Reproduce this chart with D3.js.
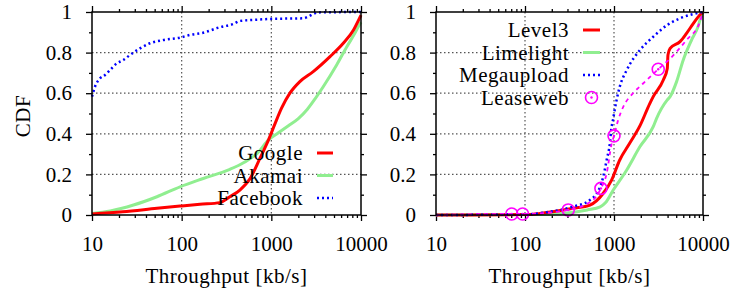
<!DOCTYPE html>
<html>
<head>
<meta charset="utf-8">
<script src="https://cdn.jsdelivr.net/npm/d3@7"></script>
<style>
    body { margin: 0; background: #fff; }
    svg { display: block; }
    svg text { font-family: "Liberation Serif", "DejaVu Serif", serif; }
</style>
</head>
<body>
<svg id="chart" width="737" height="292"></svg>
<script>
// ---- data ----
const xTickVals = [10, 100, 1000, 10000];
const yTickVals = [0, 0.2, 0.4, 0.6, 0.8, 1];

// left panel
const googleX = [10, 22, 53, 96, 160, 267, 345, 446, 580, 748, 930, 1100, 1300, 1610, 2080, 2930, 4510, 6340, 8250, 9400, 10000];
const googleY = [0.005, 0.016, 0.033, 0.044, 0.053, 0.061, 0.09, 0.123, 0.18, 0.28, 0.37, 0.45, 0.526, 0.6, 0.657, 0.706, 0.78, 0.846, 0.911, 0.96, 0.985];
const akamaiX = [10, 16, 29, 53, 96, 174, 345, 500, 700, 930, 1200, 1550, 2000, 2510, 3100, 3790, 5350, 6950, 8530, 9400, 10000];
const akamaiY = [0.008, 0.02, 0.049, 0.09, 0.139, 0.18, 0.225, 0.26, 0.305, 0.37, 0.405, 0.44, 0.475, 0.52, 0.575, 0.632, 0.739, 0.829, 0.895, 0.93, 0.95];
const facebookX = [10, 10.8, 12.3, 14, 15.9, 18.9, 22.3, 26.5, 34.3, 44.3, 62.5, 96, 124, 174, 267, 377, 446, 630, 970, 2280, 2570, 2930, 3340, 10000];
const facebookY = [0.583, 0.632, 0.673, 0.69, 0.714, 0.747, 0.763, 0.788, 0.821, 0.846, 0.862, 0.874, 0.887, 0.898, 0.925, 0.941, 0.956, 0.961, 0.966, 0.969, 0.977, 0.99, 0.998, 1];

// right panel
const level3X = [10, 100, 147, 348, 537, 758, 940, 1160, 1500, 1960, 2530, 2760, 3580, 3970, 4040, 4270, 5520, 6530, 7800, 9200, 10000];
const level3Y = [0, 0.002, 0.008, 0.033, 0.049, 0.107, 0.172, 0.271, 0.353, 0.44, 0.55, 0.583, 0.665, 0.722, 0.788, 0.821, 0.854, 0.895, 0.944, 0.985, 1];
const limelightX = [10, 147, 300, 500, 700, 800, 981, 1390, 1960, 2760, 3010, 3970, 4270, 5050, 6000, 7430, 8800, 9500, 10000];
const limelightY = [0, 0.003, 0.01, 0.025, 0.04, 0.06, 0.123, 0.222, 0.337, 0.435, 0.476, 0.567, 0.583, 0.657, 0.764, 0.862, 0.928, 0.977, 1];
const megauploadX = [10, 100, 190, 348, 537, 697, 758, 827, 899, 937, 981, 1020, 1070, 1160, 1390, 1960, 2760, 3970, 5520, 7800, 10000];
const megauploadY = [0, 0.003, 0.016, 0.041, 0.074, 0.139, 0.189, 0.271, 0.353, 0.43, 0.475, 0.52, 0.567, 0.632, 0.714, 0.813, 0.878, 0.936, 0.969, 0.99, 1];
const leasewebX = [10, 71, 94, 306, 580, 713, 827, 940, 1000, 1100, 1270, 1640, 2140, 3140, 4260, 6530, 9200, 10000];
const leasewebY = [0, 0.005, 0.005, 0.025, 0.074, 0.131, 0.205, 0.35, 0.39, 0.46, 0.533, 0.6, 0.649, 0.718, 0.77, 0.862, 0.95, 1];
const leasewebPtX = [71, 94, 306, 713, 1000, 3140];
const leasewebPtY = [0.005, 0.005, 0.025, 0.131, 0.39, 0.718];

// ---- layout ----
const FONT = "Liberation Serif, DejaVu Serif, serif";
const plotTop = 12, plotBottom = 215;
const panels = [
    {
        x0: 92, x1: 361,
        series: [
            { name: "Akamai", xs: akamaiX, ys: akamaiY, color: "#90ee90", width: 3, dash: null },
            { name: "Google", xs: googleX, ys: googleY, color: "#ff0000", width: 3, dash: null },
            { name: "Facebook", xs: facebookX, ys: facebookY, color: "#0000ff", width: 2.5, dash: "2,3" }
        ],
        legend: { textX: 303, sx0: 317, sx1: 333, rows: [
            { name: "Google", y: 153, color: "#ff0000", width: 3, dash: null },
            { name: "Akamai", y: 175.5, color: "#90ee90", width: 3, dash: null },
            { name: "Facebook", y: 198, color: "#0000ff", width: 2.5, dash: "2,3" }
        ] }
    },
    {
        x0: 436, x1: 703,
        series: [
            { name: "Limelight", xs: limelightX, ys: limelightY, color: "#90ee90", width: 3, dash: null },
            { name: "Level3", xs: level3X, ys: level3Y, color: "#ff0000", width: 3, dash: null },
            { name: "Megaupload", xs: megauploadX, ys: megauploadY, color: "#0000ff", width: 2.5, dash: "2,3" },
            { name: "Leaseweb", xs: leasewebX, ys: leasewebY, color: "#ff00ff", width: 1.8, dash: "4,4" }
        ],
        points: { xs: leasewebPtX, ys: leasewebPtY, color: "#ff00ff" },
        legend: { textX: 569, sx0: 583, sx1: 600, rows: [
            { name: "Level3", y: 30, color: "#ff0000", width: 3, dash: null },
            { name: "Limelight", y: 52.5, color: "#90ee90", width: 3, dash: null },
            { name: "Megaupload", y: 75, color: "#0000ff", width: 2.5, dash: "2,3" },
            { name: "Leaseweb", y: 97.5, color: "#ff00ff", marker: true }
        ] }
    }
];

const minorX = [];
[10, 100, 1000].forEach(d => { for (let k = 2; k <= 9; k++) minorX.push(d * k); });
const minorY = [0.1, 0.3, 0.5, 0.7, 0.9];

const svg = d3.select("#chart");

const y = d3.scaleLinear().domain([0, 1]).range([plotBottom, plotTop]);

const drawMarker = (g, cx, cy, color) => {
    g.append("circle")
        .attr("cx", cx).attr("cy", cy).attr("r", 6)
        .attr("fill", "none").attr("stroke", color).attr("stroke-width", 1.6);
    g.append("circle")
        .attr("cx", cx).attr("cy", cy).attr("r", 1.2)
        .attr("fill", color);
};

const addText = (parent, txt) => parent.append("text")
    .attr("font-family", FONT)
    .attr("font-size", 21)
    .attr("letter-spacing", 0.5)
    .attr("fill", "#000")
    .text(txt);

panels.forEach((p, pi) => {
    const x = d3.scaleLog().domain([10, 10000]).range([p.x0, p.x1]);
    const g = svg.append("g");

    // grid
    g.append("g").selectAll("line")
        .data([100, 1000])
        .join("line")
        .attr("x1", d => x(d)).attr("x2", d => x(d))
        .attr("y1", plotTop).attr("y2", plotBottom)
        .attr("stroke", "#555").attr("stroke-width", 1.2)
        .attr("stroke-dasharray", "1.5,2.5");
    g.append("g").selectAll("line")
        .data([0.2, 0.4, 0.6, 0.8])
        .join("line")
        .attr("x1", p.x0).attr("x2", p.x1)
        .attr("y1", d => y(d)).attr("y2", d => y(d))
        .attr("stroke", "#555").attr("stroke-width", 1.2)
        .attr("stroke-dasharray", "1.5,2.5");

    // axes: major + minor ticks on all four sides (outward)
    const styleAxis = sel => {
        sel.attr("font-family", FONT).attr("font-size", 21);
        sel.select(".domain").remove();
        sel.selectAll(".tick line").attr("stroke", "#000").attr("stroke-width", 1.3);
        sel.selectAll("text").attr("fill", "#000");
    };

    g.append("g").attr("transform", `translate(0,${plotBottom})`)
        .call(d3.axisBottom(x).tickValues(xTickVals).tickSize(6).tickPadding(15).tickFormat(d3.format("d")))
        .call(styleAxis);
    g.append("g").attr("transform", `translate(0,${plotBottom})`)
        .call(d3.axisBottom(x).tickValues(minorX).tickSize(3).tickFormat(""))
        .call(styleAxis);
    g.append("g").attr("transform", `translate(0,${plotTop})`)
        .call(d3.axisTop(x).tickValues(xTickVals).tickSize(6).tickFormat(""))
        .call(styleAxis);
    g.append("g").attr("transform", `translate(0,${plotTop})`)
        .call(d3.axisTop(x).tickValues(minorX).tickSize(3).tickFormat(""))
        .call(styleAxis);

    g.append("g").attr("transform", `translate(${p.x0},0)`)
        .call(d3.axisLeft(y).tickValues(yTickVals).tickSize(6).tickPadding(14).tickFormat(d3.format("")))
        .call(styleAxis);
    g.append("g").attr("transform", `translate(${p.x0},0)`)
        .call(d3.axisLeft(y).tickValues(minorY).tickSize(3).tickFormat(""))
        .call(styleAxis);
    g.append("g").attr("transform", `translate(${p.x1},0)`)
        .call(d3.axisRight(y).tickValues(yTickVals).tickSize(6).tickFormat(""))
        .call(styleAxis);
    g.append("g").attr("transform", `translate(${p.x1},0)`)
        .call(d3.axisRight(y).tickValues(minorY).tickSize(3).tickFormat(""))
        .call(styleAxis);

    // curves
    const clipId = "clip" + pi;
    svg.append("clipPath").attr("id", clipId)
        .append("rect")
        .attr("x", p.x0 - 2).attr("y", plotTop - 2)
        .attr("width", p.x1 - p.x0 + 4).attr("height", plotBottom - plotTop + 4);

    const line = d3.line()
        .x(d => x(d[0]))
        .y(d => y(d[1]))
        .curve(d3.curveMonotoneX);

    p.series.forEach(s => {
        g.append("path")
            .datum(s.xs.map((v, i) => [v, s.ys[i]]))
            .attr("clip-path", `url(#${clipId})`)
            .attr("d", line)
            .attr("fill", "none")
            .attr("stroke", s.color)
            .attr("stroke-width", s.width)
            .attr("stroke-dasharray", s.dash);
    });

    if (p.points) {
        p.points.xs.forEach((v, i) => drawMarker(g, x(v), y(p.points.ys[i]), p.points.color));
    }

    // border box
    g.append("rect")
        .attr("x", p.x0).attr("y", plotTop)
        .attr("width", p.x1 - p.x0).attr("height", plotBottom - plotTop)
        .attr("fill", "none").attr("stroke", "#000").attr("stroke-width", 1.5);

    // legend
    const lg = g.append("g");
    p.legend.rows.forEach(r => {
        addText(lg, r.name)
            .attr("x", p.legend.textX).attr("y", r.y + 7)
            .attr("text-anchor", "end");
        if (r.marker) {
            drawMarker(lg, (p.legend.sx0 + p.legend.sx1) / 2, r.y, r.color);
        } else {
            lg.append("line")
                .attr("x1", p.legend.sx0).attr("x2", p.legend.sx1)
                .attr("y1", r.y).attr("y2", r.y)
                .attr("stroke", r.color).attr("stroke-width", r.width)
                .attr("stroke-dasharray", r.dash);
        }
    });

    // x axis title
    addText(g, "Throughput [kb/s]")
        .attr("x", (p.x0 + p.x1) / 2).attr("y", 283)
        .attr("text-anchor", "middle");
});

// y axis title
addText(svg, "CDF")
    .attr("transform", "translate(30,116) rotate(-90)")
    .attr("text-anchor", "middle");
</script>
</body>
</html>
